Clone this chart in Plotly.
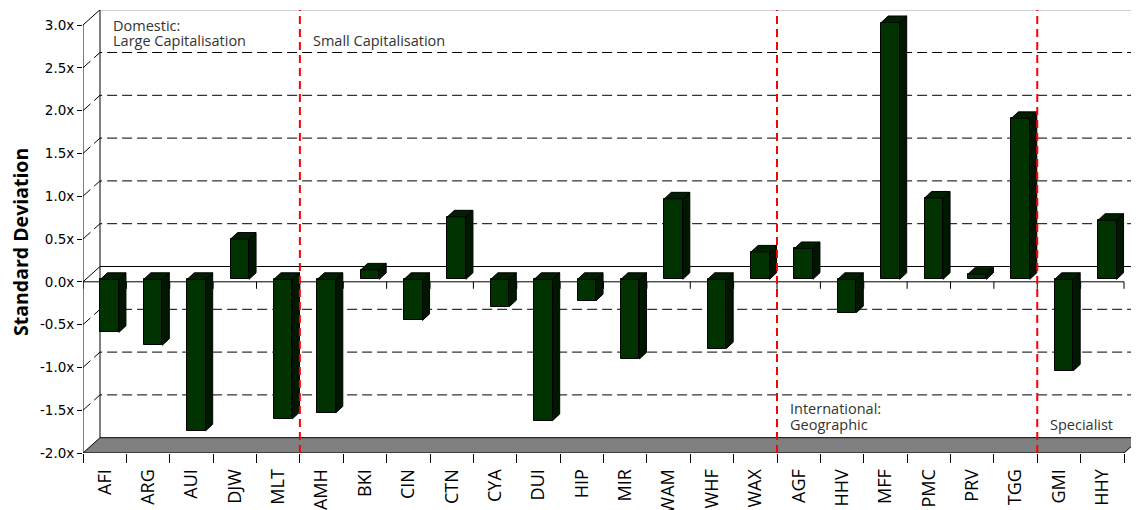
import plotly.graph_objects as go

# ---------------- data ----------------
categories = ["AFI", "ARG", "AUI", "DJW", "MLT", "AMH", "BKI", "CIN", "CTN", "CYA",
              "DUI", "HIP", "MIR", "WAM", "WHF", "WAX", "AGF", "HHV", "MFF", "PMC",
              "PRV", "TGG", "GMI", "HHY"]
std_dev = [-0.62, -0.77, -1.77, 0.47, -1.63, -1.56, 0.11, -0.48, 0.73, -0.32,
           -1.65, -0.25, -0.93, 0.94, -0.81, 0.32, 0.36, -0.39, 3.00, 0.95,
           0.06, 1.88, -1.07, 0.69]
y_ticks = [-2.0, -1.5, -1.0, -0.5, 0.0, 0.5, 1.0, 1.5, 2.0, 2.5, 3.0]
y_tick_labels = ["-2.0x", "-1.5x", "-1.0x", "-0.5x", "0.0x", "0.5x", "1.0x",
                 "1.5x", "2.0x", "2.5x", "3.0x"]
group_lines = [["Domestic:", "Large Capitalisation"], ["Small Capitalisation"],
               ["International:", "Geographic"], ["Specialist"]]
group_first = [0, 5, 16, 22]

# ---------------- geometry / style ----------------
n = len(categories)
Y_MIN, Y_MAX = y_ticks[0], y_ticks[-1]
PX_X = 43.375          # px per category
PX_Y = 85.6            # px per unit
WALL_DX, WALL_DY = 17 / PX_X, 15.3 / PX_Y
BAR_OX, BAR_OY = 5 / PX_X, 2.5 / PX_Y
BAR_W = 18.5 / PX_X
BAR_DX, BAR_DY = 7 / PX_X, 6.5 / PX_Y
BODY = 8                       # default page body margin
PAGE_W, PAGE_H = 1139, 510
W, H = PAGE_W - BODY, PAGE_H - BODY
PLOT_L, PLOT_T, PLOT_B = 83, 10, 453   # plot area in page pixels
ML, MT, MB = PLOT_L - BODY, PLOT_T - BODY, PAGE_H - PLOT_B
PLOT_W, PLOT_H = W - ML, PLOT_B - PLOT_T
x_range = [-0.5, -0.5 + PLOT_W / PX_X]
y_range = [Y_MIN, Y_MIN + PLOT_H / PX_Y]
x_front_r = n - 0.5
x_back_l = -0.5 + WALL_DX
x_back_r = x_front_r + WALL_DX

FRONT, TOP, SIDE = "#003300", "#002000", "#001800"

fig = go.Figure()

# front faces of the bars
fig.add_trace(go.Bar(
    x=[i + BAR_OX for i in range(n)], y=std_dev, base=BAR_OY, width=BAR_W,
    marker=dict(color=FRONT, line=dict(color="#000000", width=1)),
    hoverinfo="skip", showlegend=False))

# top and side faces
tx, ty, sx, sy = [], [], [], []
for i, v in enumerate(std_dev):
    xl = i + BAR_OX - BAR_W / 2
    xr = xl + BAR_W
    yt = BAR_OY + max(0, v)
    yb = BAR_OY + min(0, v)
    tx += [xl, xr, xr + BAR_DX, xl + BAR_DX, xl, None]
    ty += [yt, yt, yt + BAR_DY, yt + BAR_DY, yt, None]
    sx += [xr, xr + BAR_DX, xr + BAR_DX, xr, xr, None]
    sy += [yb, yb + BAR_DY, yt + BAR_DY, yt, yb, None]
fig.add_trace(go.Scatter(x=sx, y=sy, mode="lines", fill="toself", fillcolor=SIDE,
                         line=dict(color="#000000", width=1), hoverinfo="skip",
                         showlegend=False))
fig.add_trace(go.Scatter(x=tx, y=ty, mode="lines", fill="toself", fillcolor=TOP,
                         line=dict(color="#000000", width=1), hoverinfo="skip",
                         showlegend=False))

# red dashed group separators
rx, ry = [], []
for g in group_first[1:]:
    rx += [g - 0.5, g - 0.5, None]
    ry += [Y_MIN, y_range[1], None]
fig.add_trace(go.Scatter(x=rx, y=ry, mode="lines",
                         line=dict(color="#FF0000", width=2, dash="8px,5px"),
                         hoverinfo="skip", showlegend=False))

# dummy trace for boundary-tick axis
fig.add_trace(go.Scatter(x=[0], y=[0], xaxis="x2", mode="markers",
                         marker=dict(opacity=0), hoverinfo="skip", showlegend=False))

# ---------------- walls, floor, gridlines ----------------
shapes = []
floor_path = (f"M {-0.5},{Y_MIN} L {x_front_r},{Y_MIN} L {x_back_r},{Y_MIN + WALL_DY} "
              f"L {x_back_l},{Y_MIN + WALL_DY} Z")
shapes.append(dict(type="path", path=floor_path, xref="x", yref="y", layer="below",
                   fillcolor="#808080", line=dict(color="#000000", width=1)))
for v in y_ticks[1:]:
    solid = v in (0.0, Y_MAX)
    p = f"M {-0.5},{v} L {x_back_l},{v + WALL_DY} L {x_back_r},{v + WALL_DY}"
    shapes.append(dict(type="path", path=p, xref="x", yref="y", layer="below",
                       line=dict(color="#000000", width=1,
                                 dash="solid" if solid else "10px,5px")))
# front axis line and back wall left edge
shapes.append(dict(type="line", xref="x", yref="y", layer="below",
                   x0=-0.5, x1=-0.5, y0=Y_MIN, y1=Y_MAX,
                   line=dict(color="#000000", width=1)))
shapes.append(dict(type="line", xref="x", yref="y", layer="below",
                   x0=x_back_l, x1=x_back_l, y0=Y_MIN + WALL_DY, y1=Y_MAX + WALL_DY,
                   line=dict(color="#000000", width=1)))
# front zero line with category ticks
shapes.append(dict(type="line", xref="x", yref="y", layer="below",
                   x0=-0.5, x1=x_front_r, y0=0, y1=0,
                   line=dict(color="#000000", width=1)))
for b in range(n + 1):
    shapes.append(dict(type="line", xref="x", yref="y", layer="below",
                       x0=b - 0.5, x1=b - 0.5, y0=0, y1=-7 / PX_Y,
                       line=dict(color="#000000", width=1)))

# ---------------- annotations ----------------
ann = []
group_mid_px = [[25.0, 40.5], [40.5], [408.0, 424.5], [424.5]]
for k, lines in enumerate(group_lines):
    x0 = group_first[k] - 0.5 + (WALL_DX if group_first[k] == 0 else 0) + 11 / PX_X
    for j, t in enumerate(lines):
        yy = Y_MIN + (PLOT_B - group_mid_px[k][j]) / PX_Y
        ann.append(dict(text=t, x=x0, y=yy, xref="x", yref="y", xanchor="left",
                        yanchor="middle", showarrow=False,
                        font=dict(family="Open Sans", size=14.5, color="#333333")))
ann.append(dict(text="<b>Standard Deviation</b>",
                x=(20 - PLOT_L) / PLOT_W, y=(PLOT_B - 242) / PLOT_H,
                xref="paper", yref="paper", textangle=-90, showarrow=False,
                xanchor="center", yanchor="middle",
                font=dict(family="Open Sans", size=19.5, color="#000000")))

fig.update_layout(
    width=W, height=H, autosize=False,
    margin=dict(l=ML, r=0, t=MT, b=MB, pad=0),
    paper_bgcolor="#FFFFFF", plot_bgcolor="rgba(0,0,0,0)",
    showlegend=False, shapes=shapes, annotations=ann, bargap=0,
    xaxis=dict(range=x_range, tickmode="array", tickvals=list(range(n)),
               ticktext=categories, tickangle=-90, ticks="outside", ticklen=8,
               tickcolor="rgba(0,0,0,0)", showgrid=False, zeroline=False,
               showline=False, fixedrange=True, automargin=False,
               tickfont=dict(family="Open Sans", size=18, color="#000000")),
    xaxis2=dict(range=x_range, overlaying="x", anchor="y", side="bottom",
                tickmode="array", tickvals=[b - 0.5 for b in range(n + 1)],
                ticks="outside", ticklen=9, tickcolor="#000000", tickwidth=1,
                showticklabels=False, showgrid=False, zeroline=False,
                showline=False),
    yaxis=dict(range=y_range, tickmode="array", tickvals=y_ticks,
               ticktext=y_tick_labels, ticks="outside", ticklen=5,
               tickcolor="#000000", showgrid=False, zeroline=False, showline=False,
               automargin=False,
               tickfont=dict(family="DejaVu Sans", size=13.5, color="#000000")),
)

fig.write_html("out.html")
